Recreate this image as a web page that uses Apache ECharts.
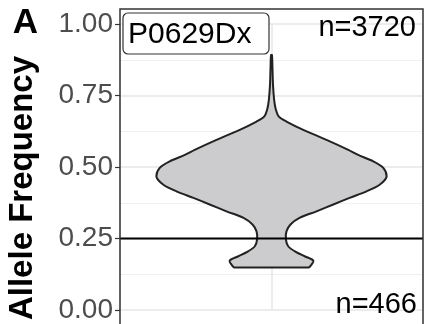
<!DOCTYPE html>
<html>
<head>
<meta charset="utf-8">
<script src="https://cdn.jsdelivr.net/npm/echarts@6/dist/echarts.min.js"></script>
<style>
  html, body { margin: 0; padding: 0; background: #ffffff; }
  #chart { width: 424px; height: 324px; }
</style>
</head>
<body>
<div id="chart"></div>
<script>
// Allele frequency values along the violin outline (top to bottom)
const violinY = [0.892, 0.839, 0.787, 0.735, 0.700, 0.676, 0.659, 0.630, 0.595, 0.560,
                 0.543, 0.520, 0.497, 0.467, 0.438, 0.415, 0.392, 0.369, 0.345, 0.322,
                 0.299, 0.275, 0.247, 0.223, 0.206, 0.188, 0.173, 0.159, 0.149];
// Relative kernel density at each of those frequencies (max = 1)
const violinDensity = [0.004, 0.009, 0.013, 0.023, 0.038, 0.064, 0.130, 0.276, 0.478, 0.667,
                       0.748, 0.884, 0.971, 1.000, 0.939, 0.826, 0.678, 0.537, 0.391, 0.243,
                       0.165, 0.130, 0.125, 0.145, 0.200, 0.287, 0.363, 0.348, 0.322];
// Y axis tick values
const yTickValues = [0, 0.25, 0.5, 0.75, 1];
// Reference frequency line
const refLines = [0.25];
// Annotations
const sampleName = 'P0629Dx';
const countTop = 'n=3720';
const countBottom = 'n=466';
const panelTag = 'A';
const yTitle = 'Allele Frequency';

const FONT = '"Liberation Sans", Arial, Helvetica, sans-serif';
const HALF_WIDTH = 0.76;

const chart = echarts.init(document.getElementById('chart'), null, { renderer: 'canvas' });

chart.setOption({
  animation: false,
  backgroundColor: '#ffffff',
  grid: { left: 120, top: 24, width: 303, height: 287, containLabel: false },
  xAxis: {
    type: 'value', min: -1, max: 1, interval: 1,
    axisLine: { show: false, onZero: false }, axisTick: { show: false }, axisLabel: { show: false },
    splitLine: { show: true, lineStyle: { color: '#e6e6e6', width: 1.5 } }
  },
  yAxis: {
    type: 'value', min: yTickValues[0], max: yTickValues[yTickValues.length - 1], interval: 0.25,
    axisLine: { show: false, onZero: false },
    axisTick: { show: true, length: 5, lineStyle: { color: '#333333', width: 1.2 } },
    axisLabel: {
      show: true, margin: 7, fontSize: 28, color: '#4d4d4d', fontFamily: FONT,
      formatter: v => v.toFixed(2)
    },
    splitLine: { show: true, lineStyle: { color: '#e6e6e6', width: 1.5 } },
    minorTick: { show: false, splitNumber: 2 },
    minorSplitLine: { show: true, lineStyle: { color: '#f0f0f0', width: 1 } }
  },
  series: [
    {
      type: 'custom',
      z: 3,
      silent: true,
      data: [[0, 0.5]],
      renderItem: function (params, api) {
        const left = violinY.map((y, i) => api.coord([-violinDensity[i] * HALF_WIDTH, y]));
        const right = violinY.map((y, i) => api.coord([violinDensity[i] * HALF_WIDTH, y])).reverse();
        const pts = left.concat(right);
        const xs = pts.map(p => p[0]);
        const ys = pts.map(p => p[1]);
        const box = [[Math.min(...xs), Math.min(...ys)], [Math.max(...xs), Math.max(...ys)]];
        return {
          type: 'polygon',
          shape: { points: pts, smooth: 0.3, smoothConstraint: box },
          style: { fill: '#cccbcd', stroke: '#222222', lineWidth: 2, lineJoin: 'round' }
        };
      }
    },
    {
      type: 'line',
      z: 5,
      silent: true,
      showSymbol: false,
      data: [[-1, refLines[0]], [1, refLines[0]]],
      lineStyle: { color: '#000000', width: 2 }
    }
  ],
  graphic: [
    {
      type: 'rect', z: 10, silent: true,
      shape: { x: 120, y: 9, width: 303, height: 330 },
      style: { fill: 'none', stroke: '#333333', lineWidth: 1.5 }
    },
    {
      type: 'rect', z: 11, silent: true,
      shape: { x: 123, y: 13, width: 146, height: 41, r: 5 },
      style: { fill: '#ffffff', stroke: '#333333', lineWidth: 1.2 }
    },
    {
      type: 'text', z: 12, silent: true, x: 128, y: 35,
      style: { text: sampleName, font: '30px ' + FONT, fill: '#000000', textAlign: 'left', textVerticalAlign: 'middle' }
    },
    {
      type: 'text', z: 12, silent: true, x: 416, y: 28,
      style: { text: countTop, font: '29px ' + FONT, fill: '#000000', textAlign: 'right', textVerticalAlign: 'middle' }
    },
    {
      type: 'text', z: 12, silent: true, x: 417, y: 305,
      style: { text: countBottom, font: '29px ' + FONT, fill: '#000000', textAlign: 'right', textVerticalAlign: 'middle' }
    },
    {
      type: 'text', z: 12, silent: true, x: 25.5, y: 23,
      style: { text: panelTag, font: 'bold 35px ' + FONT, fill: '#000000', textAlign: 'center', textVerticalAlign: 'middle' }
    },
    {
      type: 'text', z: 12, silent: true, x: 23, y: 188, rotation: Math.PI / 2,
      style: { text: yTitle, font: 'bold 33px ' + FONT, fill: '#000000', textAlign: 'center', textVerticalAlign: 'middle' }
    }
  ]
});
</script>
</body>
</html>
